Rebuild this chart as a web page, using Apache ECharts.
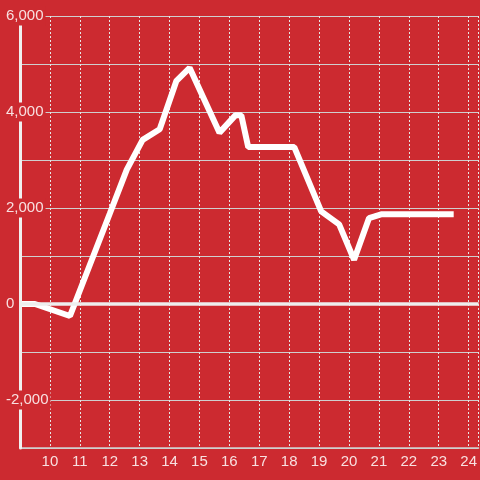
<!DOCTYPE html>
<html>
<head>
<meta charset="utf-8">
<script src="https://cdn.jsdelivr.net/npm/echarts@6/dist/echarts.min.js"></script>
<style>
  html, body { margin: 0; padding: 0; background: #cc2a30; }
  #chart { width: 480px; height: 480px; }
</style>
</head>
<body>
<div id="chart"></div>
<script>
  // x 值（小时）与 y 值
  var xValues = [9, 9.5, 10.67, 12, 12.57, 13.1, 13.67, 14.23, 14.67, 15.67, 16.2, 16.4, 16.63, 18.17, 19.07, 19.67, 20.17, 20.67, 21.1, 23.5];
  var yValues = [0, 0, -250, 1880, 2800, 3420, 3640, 4650, 4920, 3570, 3930, 3930, 3270, 3270, 1930, 1660, 920, 1790, 1870, 1870];
  var xTicks = [10, 11, 12, 13, 14, 15, 16, 17, 18, 19, 20, 21, 22, 23, 24];
  var yTicks = [-2000, 0, 2000, 4000, 6000];

  var bg = '#cc2a30';
  var labelColor = '#f8e0e0';
  var font = 'Liberation Sans';

  var chart = echarts.init(document.getElementById('chart'));

  function fmt(v) {
    if (yTicks.indexOf(v) < 0) return '';
    return v.toLocaleString('en-US');
  }

  var option = {
    backgroundColor: bg,
    animation: false,
    grid: { left: 20, right: 0, top: 16, bottom: 32 },
    xAxis: {
      type: 'value',
      min: 9,
      max: 24.3333,
      interval: 1,
      axisLine: { show: true, onZero: false, lineStyle: { color: '#d0d0d0', width: 1.5 } },
      axisTick: { show: false },
      splitLine: { show: true, lineStyle: { color: '#e6e6e6', type: [2, 2], width: 1 } },
      axisLabel: {
        color: labelColor,
        fontSize: 15,
        fontFamily: font,
        margin: 6,
        showMinLabel: false,
        showMaxLabel: false,
        formatter: function (v) { return xTicks.indexOf(v) >= 0 ? String(v) : ''; }
      }
    },
    yAxis: [
      {
        // 网格横线
        type: 'value',
        min: -3000,
        max: 6000,
        interval: 1000,
        z: 0,
        axisLine: { show: false },
        axisTick: { show: false },
        axisLabel: { show: false },
        splitLine: { show: true, lineStyle: { color: '#cfcfcf', width: 1 } }
      },
      {
        // 轴线和标签
        type: 'value',
        min: -3000,
        max: 6000,
        interval: 1000,
        position: 'left',
        z: 5,
        axisLine: { show: true, lineStyle: { color: '#f0f0f0', width: 3 } },
        axisTick: { show: false },
        splitLine: { show: false },
        axisLabel: {
          color: labelColor,
          fontSize: 15,
          fontFamily: font,
          align: 'left',
          margin: 16,
          backgroundColor: bg,
          padding: [2, 2, 2, 2],
          formatter: fmt
        }
      }
    ],
    series: [{
      type: 'line',
      yAxisIndex: 1,
      data: xValues.map(function (x, i) { return [x, yValues[i]]; }),
      showSymbol: false,
      lineStyle: { color: '#ffffff', width: 6 },
      z: 3,
      markLine: {
        silent: true,
        symbol: 'none',
        label: { show: false },
        lineStyle: { color: '#eeeeee', width: 3.5, type: 'solid' },
        data: [{ yAxis: 0 }]
      }
    }]
  };

  chart.setOption(option);
  window.addEventListener('resize', function () { chart.resize(); });
</script>
</body>
</html>
